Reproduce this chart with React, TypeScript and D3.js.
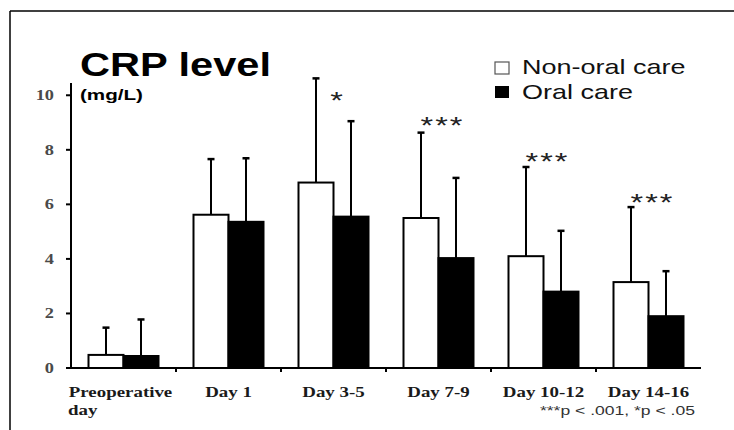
import * as d3 from "d3";
import React from "react";

// categories and series
const categories = ["Preoperative day", "Day 1", "Day 3-5", "Day 7-9", "Day 10-12", "Day 14-16"];
const series = ["Non-oral care", "Oral care"];

// mean CRP (mg/L)
const nonOralMean = [0.48, 5.62, 6.8, 5.5, 4.1, 3.15];
const oralMean = [0.44, 5.36, 5.55, 4.03, 2.8, 1.9];
// mean + SD (top of error bar)
const nonOralTop = [1.48, 7.66, 10.62, 8.63, 7.37, 5.9];
const oralTop = [1.78, 7.69, 9.05, 6.97, 5.03, 3.55];

// significance marks and the level (mg/L) they sit at
const sigMarks = ["", "", "*", "***", "***", "***"];
const sigLevel = [0, 0, 10.0, 9.1, 7.77, 6.27];

const yTicks = [0, 2, 4, 6, 8, 10];

const SX = 1.35; // picture is stretched sideways
const sans = "'Liberation Sans', Arial, sans-serif";
const serif = "'Liberation Serif', 'Times New Roman', serif";

const W = 734;
const H = 430;

const T = ({ x, y, anchor = "start", size, weight = "normal", family = sans, fill = "#000", sx = SX, spacing = 0, children }: any) => (
  <text
    transform={`translate(${x},${y}) scale(${sx},1)`}
    textAnchor={anchor}
    fontSize={size}
    fontWeight={weight}
    fontFamily={family}
    fill={fill}
    letterSpacing={spacing}
  >
    {children}
  </text>
);

export default function App() {
  const x = d3.scaleBand<string>().domain(categories).range([71, 701]);
  const sub = d3.scaleBand<string>().domain(series).range([17.5, 87.5]);
  const y = d3.scaleLinear().domain([0, 10.45]).range([368, 83]);

  const means = [nonOralMean, oralMean];
  const tops = [nonOralTop, oralTop];
  const fills = ["#fff", "#000"];

  return (
    <svg width={W} height={H} style={{ position: "absolute", left: 0, top: 0, display: "block", background: "#fff" }}>
      {/* frame */}
      <line x1={10} x2={W} y1={11} y2={11} stroke="#000" strokeWidth={1.5} />
      <line x1={10} x2={10} y1={11} y2={H} stroke="#000" strokeWidth={1.5} />

      {/* title */}
      <text x={80} y={76} fontSize={33} fontWeight="bold" fontFamily={sans} textLength={191} lengthAdjust="spacingAndGlyphs">
        CRP level
      </text>
      <text x={80} y={100} fontSize={15} fontWeight="bold" fontFamily={sans} textLength={63} lengthAdjust="spacingAndGlyphs">
        (mg/L)
      </text>

      {/* legend */}
      <rect x={495} y={62} width={14} height={12} fill="#fff" stroke="#555" strokeWidth={1.2} />
      <rect x={495} y={86} width={14} height={12} fill="#000" />
      <T x={522} y={74} size={20} fill="#111">Non-oral care</T>
      <T x={522} y={99} size={20} fill="#111">Oral care</T>

      {/* bars */}
      {categories.map((c, i) => (
        <g key={c} transform={`translate(${x(c)},0)`}>
          {series.map((s, j) => {
            const bx = sub(s)!;
            const bw = sub.bandwidth();
            const cx = bx + bw / 2;
            return (
              <g key={s}>
                <line x1={cx} x2={cx} y1={y(means[j][i])} y2={y(tops[j][i])} stroke="#000" strokeWidth={2} />
                <line x1={cx - 3.5} x2={cx + 3.5} y1={y(tops[j][i])} y2={y(tops[j][i])} stroke="#000" strokeWidth={2.5} />
                <rect
                  x={bx}
                  y={y(means[j][i])}
                  width={bw}
                  height={y(0) - y(means[j][i])}
                  fill={fills[j]}
                  stroke="#000"
                  strokeWidth={2}
                />
              </g>
            );
          })}
          {sigMarks[i] && (
            <T x={x.bandwidth() / 2 + 4} y={y(sigLevel[i]) + 14} anchor="middle" size={24} fill="#222" spacing={1.5}>
              {sigMarks[i]}
            </T>
          )}
        </g>
      ))}

      {/* y axis */}
      <line x1={71} x2={71} y1={y.range()[1]} y2={y(0)} stroke="#000" strokeWidth={2} />
      {yTicks.map((t) => (
        <g key={t}>
          <line x1={66} x2={71} y1={y(t)} y2={y(t)} stroke="#000" strokeWidth={2} />
          <T x={54} y={y(t) + 5} anchor="end" size={15} sx={1.22} weight="bold" family={serif} fill="#4a4a4a">
            {t}
          </T>
        </g>
      ))}

      {/* x axis */}
      <line x1={66} x2={x.range()[1]} y1={y(0)} y2={y(0)} stroke="#000" strokeWidth={2} />
      {categories.slice(1).map((c) => (
        <line key={c} x1={x(c)} x2={x(c)} y1={y(0)} y2={y(0) + 4} stroke="#000" strokeWidth={2} />
      ))}
      {categories.map((c) => {
        const parts = c === "Preoperative day" ? ["Preoperative", "day"] : [c];
        const cx = x(c)! + x.bandwidth() / 2;
        return parts.length > 1 ? (
          <g key={c}>
            <T x={cx - 3} y={397} anchor="middle" size={14} weight="bold" family={serif} fill="#1a1a1a">
              {parts[0]}
            </T>
            <T x={68} y={415} size={14} weight="bold" family={serif} fill="#1a1a1a">
              {parts[1]}
            </T>
          </g>
        ) : (
          <T key={c} x={cx} y={397} anchor="middle" size={14} weight="bold" family={serif} fill="#1a1a1a">
            {c}
          </T>
        );
      })}

      {/* footnote */}
      <T x={695} y={415} anchor="end" size={13} fill="#333">
        ***p &lt; .001, *p &lt; .05
      </T>
    </svg>
  );
}
